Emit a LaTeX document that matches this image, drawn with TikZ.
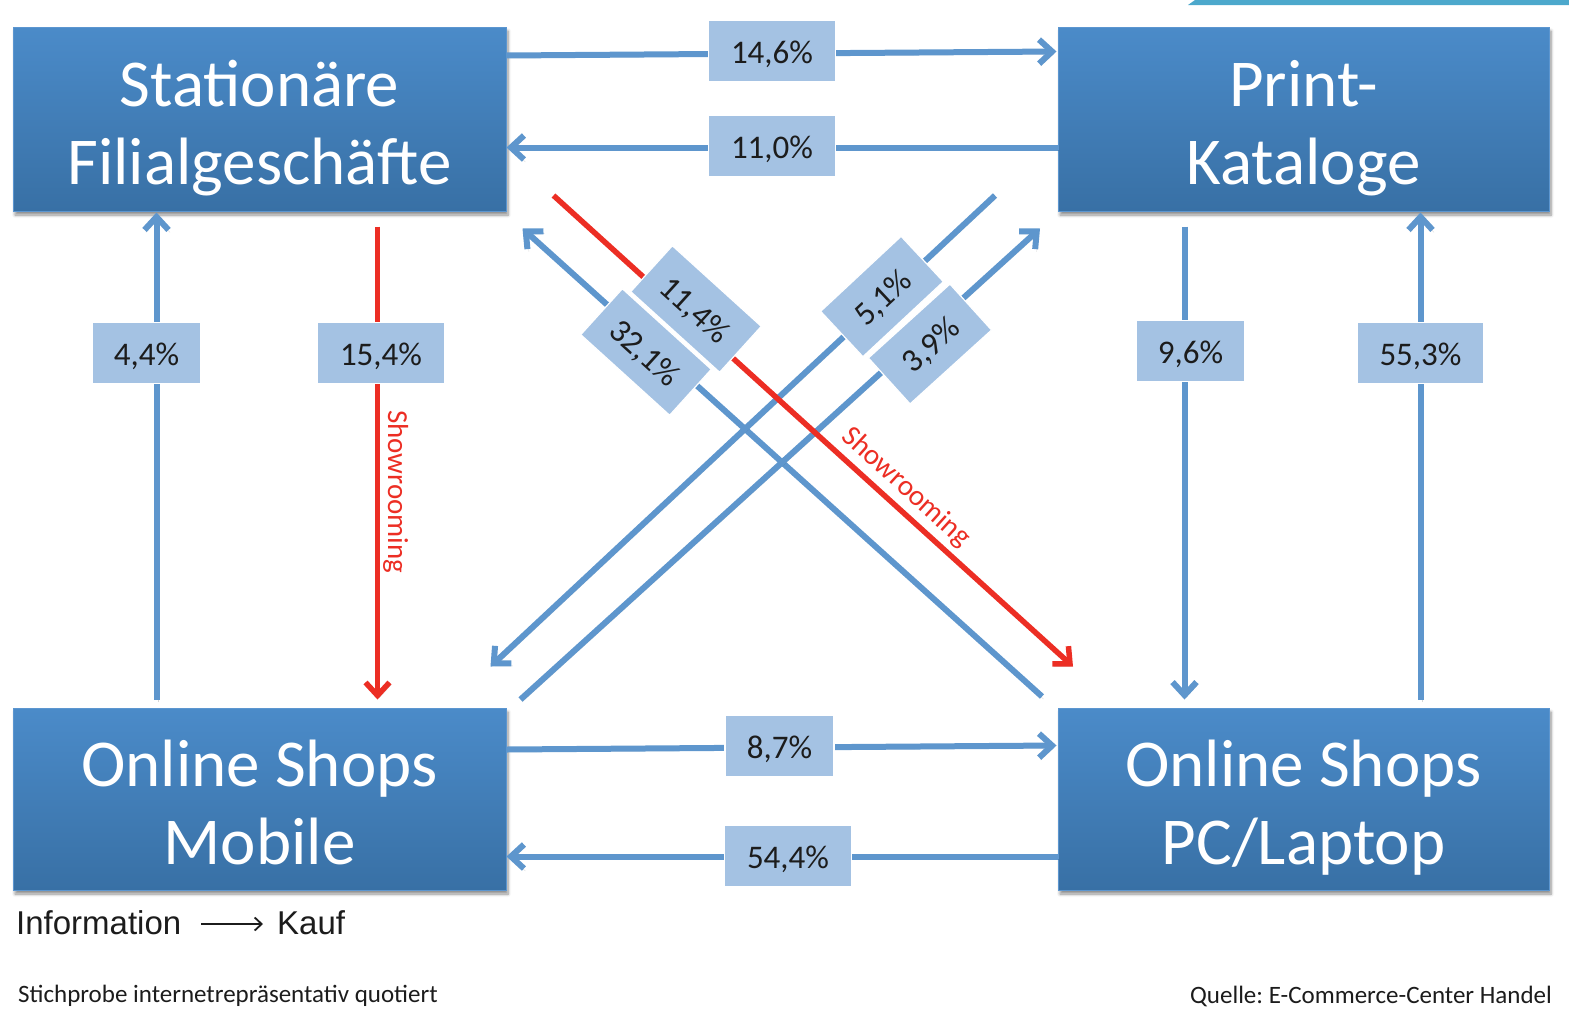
\documentclass[tikz,border=0pt]{standalone}
\usepackage{fontspec}
\setmainfont{Carlito}
\newfontfamily\arialfont{Liberation Sans}
\usetikzlibrary{arrows.meta,shadows.blur,calc}
\frenchspacing

\definecolor{boxtop}{RGB}{75,139,201}
\definecolor{boxbot}{RGB}{56,112,165}
\definecolor{boxedge}{RGB}{92,150,208}
\definecolor{lbl}{RGB}{164,194,227}
\definecolor{flow}{RGB}{94,150,205}
\definecolor{show}{RGB}{236,46,36}
\definecolor{ink}{RGB}{28,28,28}
\definecolor{band}{RGB}{76,168,204}

\begin{document}
\begin{tikzpicture}[x=1pt,y=-1pt,
  channel/.style={draw=boxedge, line width=1pt, top color=boxtop, bottom color=boxbot,
    minimum width=493pt, minimum height=184pt, inner sep=0pt,
    blur shadow={shadow xshift=2pt, shadow yshift=-4pt, shadow opacity=45,
      shadow blur steps=6, shadow blur radius=3pt}},
  channeltext/.style={text=white, align=center, inner sep=0pt,
    font=\fontsize{67}{78}\selectfont},
  share/.style={fill=lbl, draw=white, line width=1.2pt, text=ink,
    font=\fontsize{33}{38}\selectfont, minimum height=61pt, inner sep=0pt,
    text height=24pt, text depth=0pt},
  wide/.style={share, minimum width=127pt},
  narrow/.style={share, minimum width=109pt},
  softshadow/.style={preaction={draw=black, draw opacity=0.16,
    transform canvas={shift={(1.5pt,-2.5pt)}}}},
  flowline/.style={draw=flow, line width=6pt, softshadow,
    -{Straight Barb[length=13pt,width=24pt]}},
  showline/.style={draw=show, line width=5.5pt, softshadow,
    -{Straight Barb[length=13pt,width=24pt]}},
  showtext/.style={text=show, font=\fontsize{29}{34}\selectfont, inner sep=0pt},
  legendtext/.style={text=ink, inner sep=0pt},
]
\useasboundingbox (0,0) rectangle (1569,1028);

% accent band in the upper right corner
\fill[band] (1188,5) -- (1195,0) -- (1569,0) -- (1569,5) -- cycle;

% channels
\node[channel] (st) at (259.5,119) {};
\node[channel, minimum width=491pt] (pk) at (1303.5,119) {};
\node[channel, minimum height=182pt] (om) at (259.5,799) {};
\node[channel, minimum width=491pt, minimum height=182pt] (op) at (1303.5,799) {};
\node[channeltext] (stt) at ($(st.center)+(0,9)$) {Stationäre\\Filialgeschäfte};
\node[channeltext] (pkt) at ($(pk.center)+(0,9)$) {Print-\\Kataloge};
\node[channeltext] (omt) at ($(om.center)+(0,9)$) {Online Shops\\Mobile\vphantom{g}};
\node[channeltext] (opt) at ($(op.center)+(0,9)$) {Online Shops\\PC/Laptop};

% horizontal flows
\draw[flowline] ($(st.north east)+(0,29)$) -- ($(pk.north west)+(-1,25)$);
\draw[flowline] ($(pk.north west)+(0,121)$) -- ($(st.north east)+(0,121)$);
\draw[flowline] ($(om.north east)+(0,42)$) -- ($(op.north west)+(-1,38)$);
\draw[flowline] ($(op.north west)+(0,149)$) -- ($(om.north east)+(0,149)$);

% vertical flows
\draw[flowline] ($(om.north west)+(144,-8)$) -- ($(st.south west)+(144,1)$);
\draw[flowline] ($(pk.south west)+(127,15)$) -- ($(op.north west)+(127,-8)$);
\draw[flowline] ($(op.north west)+(363,-8)$) -- ($(pk.south west)+(363,1)$);

% diagonal flows
\draw[flowline] ($(op.north west)+(-15.5,-11)$) -- ($(st.south east)+(16,17)$);
\draw[flowline] ($(pk.south west)+(-62.5,-16)$) -- ($(om.north east)+(-16,-41)$);
\draw[flowline] ($(om.north east)+(14,-8)$) -- ($(pk.south west)+(-17.5,17)$);

% showrooming flows
\draw[showline] ($(st.south west)+(365,15)$) -- node[pos=0.561, sloped, above=3pt, showtext] {Showrooming} ($(om.north west)+(365,-8)$);
\draw[showline] ($(st.south east)+(47,-16)$) -- node[pos=0.652, sloped, above=5pt, showtext] {Showrooming} ($(op.north west)+(15.5,-41)$);

% shares
\node[wide] (s146) at (772,51) {14,6\%};
\node[wide] (s110) at (772,146) {11,0\%};
\node[narrow] (s44) at (146.5,353) {4,4\%};
\node[wide] (s154) at (381,353) {15,4\%};
\node[narrow] (s96) at (1190.5,351) {9,6\%};
\node[wide] (s553) at (1420.5,353) {55,3\%};
\node[narrow] (s87) at (779.5,746) {8,7\%};
\node[wide] (s544) at (788,856) {54,4\%};
\node[share, minimum width=120pt, minimum height=62pt, rotate=-42.2] (s114) at (696,309) {11,4\%};
\node[share, minimum width=120pt, minimum height=62pt, rotate=-42.2] (s321) at (646,352) {32,1\%};
\node[share, minimum width=110pt, minimum height=62pt, rotate=43] (s51) at (882,296.5) {5,1\%};
\node[share, minimum width=110pt, minimum height=62pt, rotate=42.2] (s39) at (930,344) {3,9\%};

% legend and notes
\node[legendtext, anchor=west, font=\arialfont\fontsize{33}{38}\selectfont] (info) at (16,923) {Information};
\node[legendtext, anchor=west, font=\arialfont\fontsize{33}{38}\selectfont] (kauf) at (277,923) {Kauf};
\draw[ink, line width=1.8pt, -{Straight Barb[length=7pt,width=13pt]}] ($(info.east)+(20,1)$) -- ($(kauf.west)+(-14,1)$);
\node[legendtext, anchor=west, font=\fontsize{25}{30}\selectfont] (note) at (18,996) {Stichprobe internetrepräsentativ quotiert};
\node[legendtext, anchor=east, font=\fontsize{25}{30}\selectfont] (src) at (1552,996) {Quelle: E-Commerce-Center Handel};
\end{tikzpicture}
\end{document}
